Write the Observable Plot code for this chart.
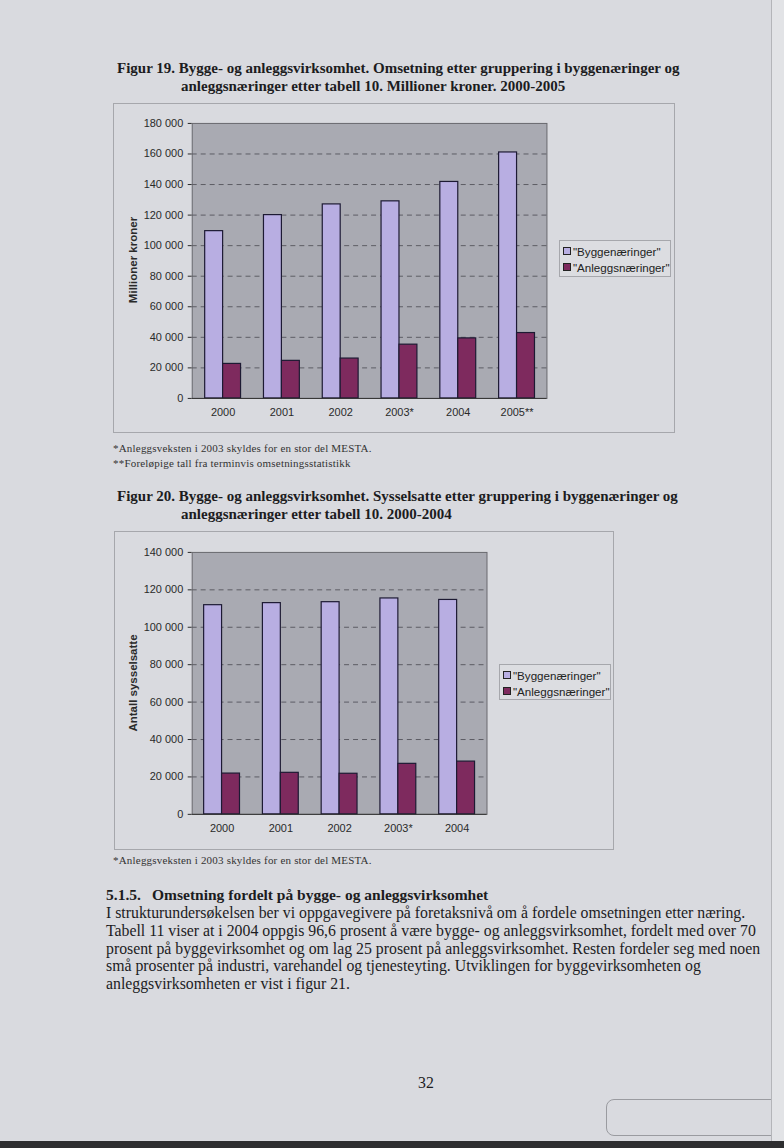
<!DOCTYPE html>
<html><head><meta charset="utf-8">
<script src="https://cdn.jsdelivr.net/npm/d3@7"></script>
<script src="https://cdn.jsdelivr.net/npm/@observablehq/plot@0.6"></script>
<style>
body{margin:0;width:784px;height:1148px;background:#d9dadf;position:relative;overflow:hidden;font-family:"Liberation Serif","Times New Roman",serif;color:#1c1c1e}
.abs{position:absolute;white-space:nowrap}
.title{font-weight:bold;font-size:15px;line-height:18px}
.note{font-size:11px;line-height:14px;letter-spacing:0.2px;color:#333}
.body{font-size:15.8px;line-height:17.8px}
.frame{position:absolute;border:1px solid #a6a7ac;box-sizing:border-box}
.frame svg{position:absolute;left:-1px;top:-1px}
.legend{position:absolute;border:1px solid #a6a7ac;font-family:"Liberation Sans",Arial,sans-serif;font-size:11.6px;padding:2px 3px;box-sizing:border-box;background:#dcdde1;color:#222}
.legend .row{display:flex;align-items:center;height:16px}
.legend .sw{width:6px;height:6px;border:1px solid #222;margin-right:2px;flex:none}
.ylab{position:absolute;font-family:"Liberation Sans",Arial,sans-serif;font-weight:bold;font-size:11.5px;transform:translate(-50%,-50%) rotate(-90deg);white-space:nowrap;color:#2a2a2a}
</style></head>
<body>
<div class="abs title" style="left:117px;top:59px">Figur 19. Bygge- og anleggsvirksomhet. Omsetning etter gruppering i byggenæringer og</div>
<div class="abs title" style="left:181px;top:77px">anleggsnæringer etter tabell 10. Millioner kroner. 2000-2005</div>

<div id="c1" class="frame" style="left:113px;top:103px;width:562px;height:330px"></div>
<div class="ylab" style="left:133px;top:260px">Millioner kroner</div>
<div id="l1" class="legend" style="left:559px;top:240px;width:112px;height:37px"></div>

<div class="abs note" style="left:113px;top:441px">*Anleggsveksten i 2003 skyldes for en stor del MESTA.</div>
<div class="abs note" style="left:113px;top:456px">**Foreløpige tall fra terminvis omsetningsstatistikk</div>

<div class="abs title" style="left:117px;top:487px">Figur 20. Bygge- og anleggsvirksomhet. Sysselsatte etter gruppering i byggenæringer og</div>
<div class="abs title" style="left:181px;top:505px">anleggsnæringer etter tabell 10. 2000-2004</div>

<div id="c2" class="frame" style="left:114px;top:531px;width:500px;height:319px"></div>
<div class="ylab" style="left:133px;top:683px">Antall sysselsatte</div>
<div id="l2" class="legend" style="left:499px;top:664px;width:112px;height:36px"></div>

<div class="abs note" style="left:113px;top:853px">*Anleggsveksten i 2003 skyldes for en stor del MESTA.</div>

<div class="abs title" style="left:106px;top:886px;font-size:15.5px">5.1.5.</div>
<div class="abs title" style="left:152px;top:886px;font-size:15.5px">Omsetning fordelt på bygge- og anleggsvirksomhet</div>
<div class="abs body" style="left:106px;top:904px">I strukturundersøkelsen ber vi oppgavegivere på foretaksnivå om å fordele omsetningen etter næring.<br>Tabell 11 viser at i 2004 oppgis 96,6 prosent å være bygge- og anleggsvirksomhet, fordelt med over 70<br>prosent på byggevirksomhet og om lag 25 prosent på anleggsvirksomhet. Resten fordeler seg med noen<br>små prosenter på industri, varehandel og tjenesteyting. Utviklingen for byggevirksomheten og<br>anleggsvirksomheten er vist i figur 21.</div>

<div class="abs body" style="left:418px;top:1074px">32</div>
<div style="position:absolute;left:606px;top:1099px;width:175px;height:37px;border:1px solid #9a9ba0;border-radius:8px;box-sizing:border-box"></div>
<div style="position:absolute;left:771px;top:0;width:13px;height:1148px;background:#e2e3e6;border-left:1px solid #b4b5b9"></div>
<div style="position:absolute;left:0;top:1141px;width:784px;height:7px;background:#2e2e30"></div>

<script>
const seriesNames = ["\"Byggenæringer\"", "\"Anleggsnæringer\""];
const seriesColors = ["#b8aee2", "#7e2a5e"];

const years1 = ["2000", "2001", "2002", "2003*", "2004", "2005**"];
const bygg1 = [109500, 120000, 127000, 129000, 141700, 161000];
const anlegg1 = [22600, 24600, 26100, 35200, 39300, 42800];
const yTicks1 = [0, 20000, 40000, 60000, 80000, 100000, 120000, 140000, 160000, 180000];

const years2 = ["2000", "2001", "2002", "2003*", "2004"];
const bygg2 = [111800, 112900, 113400, 115400, 114600];
const anlegg2 = [21800, 22200, 21700, 27000, 28200];
const yTicks2 = [0, 20000, 40000, 60000, 80000, 100000, 120000, 140000];

const fmt = d => d3.format(",")(d).replace(/,/g, " ");

function chart(years, bygg, anlegg, ticks, w, h, ml, mr, mt, mb) {
  const rows = years.map((yr, i) => ({year: yr, b: bygg[i], a: anlegg[i]}));
  return Plot.plot({
    width: w, height: h,
    marginLeft: ml, marginRight: mr, marginTop: mt, marginBottom: mb,
    style: {background: "transparent", fontFamily: "Liberation Sans, Arial, sans-serif", fontSize: "11px", color: "#2a2a2a", overflow: "visible"},
    x: {domain: years, paddingInner: 0.696, paddingOuter: 0.348, label: null, tickSize: 0, tickPadding: 10},
    y: {domain: [0, ticks[ticks.length - 1]], ticks: ticks, tickFormat: fmt, tickSize: 4, tickPadding: 5, label: null},
    marks: [
      Plot.frame({fill: "#a9aab2", stroke: "#68686e"}),
      Plot.ruleY(ticks.slice(1, -1), {stroke: "#5c5c64", strokeDasharray: "5,4", strokeWidth: 1}),
      Plot.barY(rows, {x: "year", y: "b", dx: -9, fill: seriesColors[0], stroke: "#1d1a33", strokeWidth: 1.2}),
      Plot.barY(rows, {x: "year", y: "a", dx: 9, fill: seriesColors[1], stroke: "#1d1a33", strokeWidth: 1.2}),
      Plot.ruleY([0], {stroke: "#333"})
    ]
  });
}

document.getElementById("c1").appendChild(chart(years1, bygg1, anlegg1, yTicks1, 562, 330, 79, 127, 20, 34));
document.getElementById("c2").appendChild(chart(years2, bygg2, anlegg2, yTicks2, 500, 319, 78, 126, 21, 35));

for (const id of ["l1", "l2"]) {
  const el = document.getElementById(id);
  seriesNames.forEach((n, i) => {
    const row = document.createElement("div");
    row.className = "row";
    const sw = document.createElement("span");
    sw.className = "sw";
    sw.style.background = seriesColors[i];
    const t = document.createElement("span");
    t.textContent = n;
    row.appendChild(sw);
    row.appendChild(t);
    el.appendChild(row);
  });
}
</script>
</body></html>
